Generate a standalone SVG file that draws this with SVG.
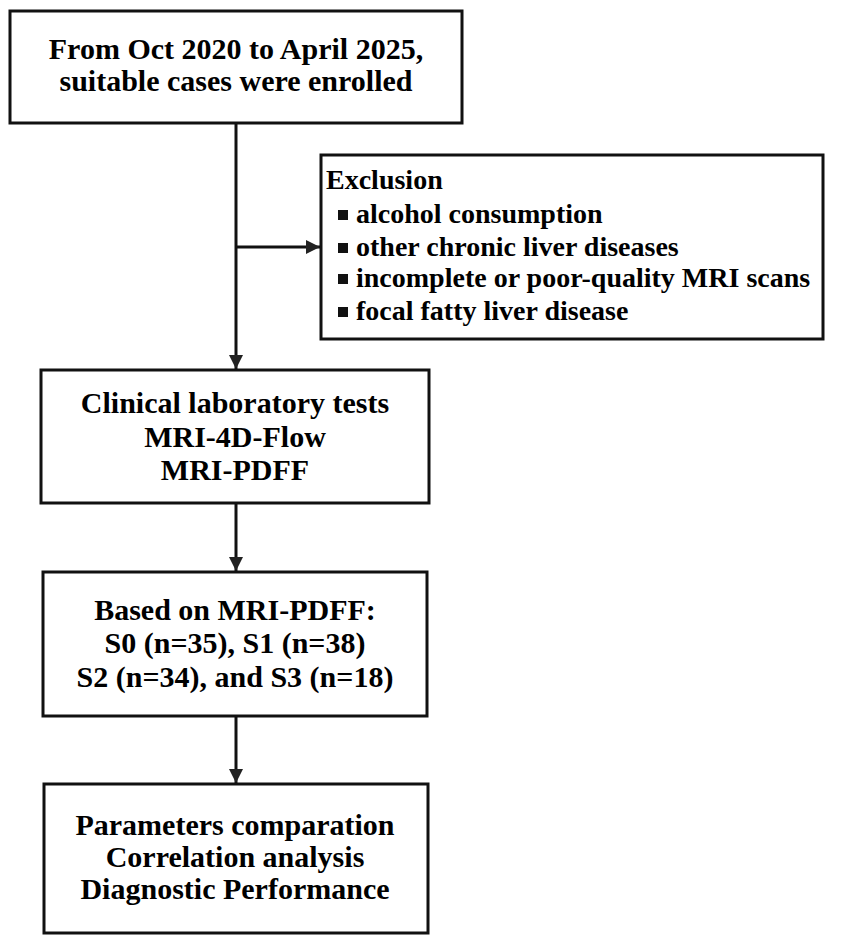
<svg xmlns="http://www.w3.org/2000/svg" width="851" height="945" viewBox="0 0 851 945">
<defs>
<style>
.box{fill:#fff;stroke:#111;stroke-width:3}
.t{font-family:"Liberation Serif","Times New Roman",serif;font-weight:bold;font-size:30px;fill:#000}
.c{text-anchor:middle}
.e{font-size:28px}
.ln{stroke:#111;stroke-width:3;fill:none}
.bul{fill:#111}
</style>
<marker id="ah" markerUnits="userSpaceOnUse" markerWidth="14" markerHeight="14" viewBox="0 0 14 14" refX="14" refY="7" orient="auto">
<path d="M0,0 L14,7 L0,14 z" fill="#222"/>
</marker>
</defs>
<rect width="851" height="945" fill="#fff"/>
<g id="connectors">
<line class="ln" x1="236" y1="123" x2="236" y2="369" marker-end="url(#ah)"/>
<line class="ln" x1="236" y1="247" x2="320" y2="247" marker-end="url(#ah)"/>
<line class="ln" x1="236" y1="503" x2="236" y2="571" marker-end="url(#ah)"/>
<line class="ln" x1="236" y1="716" x2="236" y2="783" marker-end="url(#ah)"/>
</g>
<g id="enrolled">
<rect class="box" x="10" y="11" width="452" height="112"/>
<text class="t c" x="236" y="59">From Oct 2020 to April 2025,</text>
<text class="t c" x="236" y="91">suitable cases were enrolled</text>
</g>
<g id="exclusion">
<rect class="box" x="321" y="155" width="502" height="184"/>
<text class="t e" x="326" y="189">Exclusion</text>
<rect class="bul" x="338" y="210" width="10" height="10"/>
<text class="t e" x="356" y="223">alcohol consumption</text>
<rect class="bul" x="338" y="243" width="10" height="10"/>
<text class="t e" x="356" y="256">other chronic liver diseases</text>
<rect class="bul" x="338" y="274" width="10" height="10"/>
<text class="t e" x="356" y="287">incomplete or poor-quality MRI scans</text>
<rect class="bul" x="338" y="307" width="10" height="10"/>
<text class="t e" x="356" y="320">focal fatty liver disease</text>
</g>
<g id="tests">
<rect class="box" x="41" y="370" width="388" height="133"/>
<text class="t c" x="235" y="413">Clinical laboratory tests</text>
<text class="t c" x="235" y="447">MRI-4D-Flow</text>
<text class="t c" x="235" y="480">MRI-PDFF</text>
</g>
<g id="grouping">
<rect class="box" x="43" y="572" width="384" height="144"/>
<text class="t c" x="235" y="620">Based on MRI-PDFF:</text>
<text class="t c" x="235" y="653">S0 (n=35), S1 (n=38)</text>
<text class="t c" x="235" y="687">S2 (n=34), and S3 (n=18)</text>
</g>
<g id="analysis">
<rect class="box" x="44" y="784" width="384" height="149"/>
<text class="t c" x="235" y="835">Parameters comparation</text>
<text class="t c" x="235" y="867">Correlation analysis</text>
<text class="t c" x="235" y="899">Diagnostic Performance</text>
</g>
</svg>
